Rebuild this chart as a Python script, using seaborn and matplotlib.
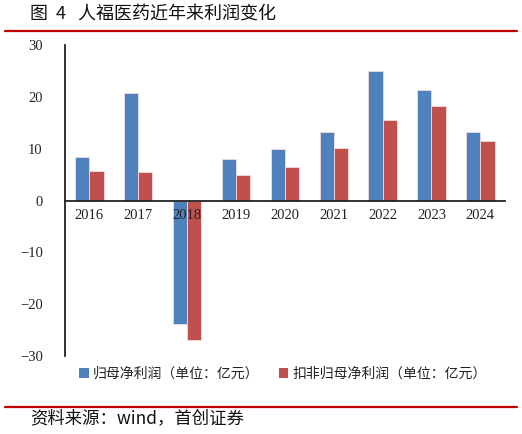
import matplotlib
matplotlib.use("Agg")
import matplotlib.pyplot as plt
import seaborn as sns
import pandas as pd
from matplotlib.lines import Line2D
from matplotlib.patches import Patch

years = ["2016", "2017", "2018", "2019", "2020", "2021", "2022", "2023", "2024"]
net_profit = [8.3, 20.8, -23.9, 8.0, 10.0, 13.2, 24.9, 21.3, 13.3]
net_profit_deducted = [5.7, 5.5, -26.9, 5.0, 6.5, 10.1, 15.5, 18.3, 11.4]
series_names = ["归母净利润（单位：亿元）", "扣非归母净利润（单位：亿元）"]
yticks = [-30, -20, -10, 0, 10, 20, 30]
colors = ["#4F81BD", "#C0504D"]

df = pd.DataFrame({
    "year": years * 2,
    "value": net_profit + net_profit_deducted,
    "series": [series_names[0]] * len(years) + [series_names[1]] * len(years),
})

sns.set_theme(style="white")
cjk = ["Noto Sans CJK SC", "DejaVu Sans"]
plt.rcParams["font.family"] = cjk

fig = plt.figure(figsize=(5.22, 4.34), dpi=100)
ax = fig.add_axes([0.1245, 0.1797, 0.8425, 0.7166])

sns.barplot(data=df, x="year", y="value", hue="series", hue_order=series_names,
            palette=colors, width=0.58, ax=ax, legend=False,
            edgecolor="#F2DCDB", linewidth=0.6, saturation=1)

ax.set_ylim(-30, 30)
ax.set_yticks(yticks)
ax.set_xlim(-0.5, len(years) - 0.5)
ax.set_xlabel("")
ax.set_ylabel("")

ax.spines["bottom"].set_position(("data", 0))
ax.spines["top"].set_visible(False)
ax.spines["right"].set_visible(False)
ax.spines["left"].set_color("#222222")
ax.spines["bottom"].set_color("#222222")
ax.spines["left"].set_linewidth(1.3)
ax.spines["bottom"].set_linewidth(1.3)
ax.tick_params(axis="both", length=0, labelsize=10.5, labelcolor="#222222",
               labelfontfamily="Liberation Serif")
ax.tick_params(axis="x", pad=6)
ax.tick_params(axis="y", pad=16)
ax.grid(False)
ax.set_axisbelow(False)

handles = [Patch(facecolor=c, edgecolor="none") for c in colors]
fig.legend(handles, series_names, loc="center", bbox_to_anchor=(0.542, 0.138),
           ncol=2, frameon=False, fontsize=10, handlelength=0.7, handleheight=0.7,
           handletextpad=0.3, columnspacing=1.4, labelcolor="#222222")

fig.text(0.057, 0.967, "图  4   人福医药近年来利润变化", fontsize=13, va="center",
         ha="left", color="#111111")
fig.add_artist(Line2D([0.01, 0.99], [0.9286, 0.9286], color="#C00000", lw=1.6,
                      transform=fig.transFigure))
fig.add_artist(Line2D([0.01, 0.99], [0.0622, 0.0622], color="#C00000", lw=1.6,
                      transform=fig.transFigure))
fig.text(0.057, 0.035, "资料来源：wind，首创证券", fontsize=12.5, va="center",
         ha="left", style="italic", color="#111111")

fig.savefig("out.png", dpi=100, facecolor="white")
